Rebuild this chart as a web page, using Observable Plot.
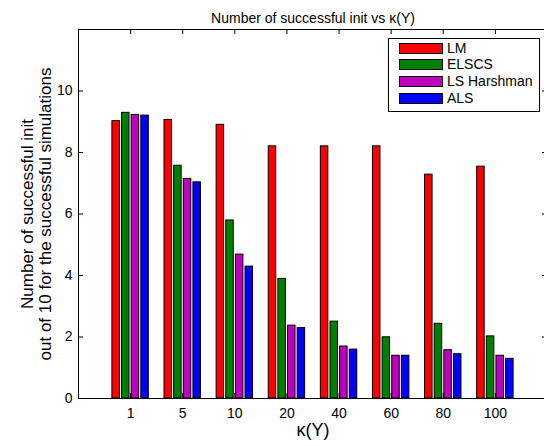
<!DOCTYPE html>
<html>
<head>
<meta charset="utf-8">
<script src="https://cdn.jsdelivr.net/npm/d3@7"></script>
<script src="https://cdn.jsdelivr.net/npm/@observablehq/plot@0.6"></script>
<style>
  html, body { margin: 0; padding: 0; background: #fff; }
  #wrap { position: relative; width: 544px; height: 446px; overflow: hidden; font-family: "Liberation Sans", Arial, sans-serif; }
  #legend { position: absolute; left: 388px; top: 38px; width: 152px; height: 74px; border: 1px solid #000; background: #fff; box-sizing: border-box; }
  .row { position: absolute; left: 10px; height: 12px; display: flex; align-items: center; font-size: 14px; color: #000; white-space: nowrap; }
  .sw { width: 44px; height: 11px; border: 1px solid #000; box-sizing: border-box; margin-right: 4px; }
</style>
</head>
<body>
<div id="wrap"></div>
<script>
const categories = ["1", "5", "10", "20", "40", "60", "80", "100"];
const seriesNames = ["LM", "ELSCS", "LS Harshman", "ALS"];
const lm    = [9.02, 9.06, 8.90, 8.20, 8.20, 8.20, 7.28, 7.54];
const elscs = [9.29, 7.57, 5.79, 3.89, 2.50, 1.99, 2.43, 2.02];
const lsh   = [9.22, 7.14, 4.68, 2.37, 1.69, 1.39, 1.57, 1.39];
const als   = [9.20, 7.03, 4.29, 2.29, 1.59, 1.39, 1.44, 1.29];
const yTicks = [0, 2, 4, 6, 8, 10];
const colors = ["#ff0000", "#008000", "#bf00bf", "#0000ff"];

const seriesValues = [lm, elscs, lsh, als];
const rows = [];
categories.forEach((c, i) => {
  seriesValues.forEach((vals, j) => {
    rows.push({cat: c, idx: i + 1, series: seriesNames[j], j, value: vals[i]});
  });
});

const W = 544, H = 446, mt = 29, mb = 48, ml = 78, mr = -3;
const plotH = H - mt - mb, plotW = W - ml - mr;
const step = 0.185, hw = 0.072;
const xPos = categories.map((c, i) => i + 1);
const font = "Liberation Sans, Arial, sans-serif";

const chart = Plot.plot({
  width: W, height: H,
  marginTop: mt, marginBottom: mb, marginLeft: ml, marginRight: mr,
  style: {fontFamily: font, background: "#fff", color: "#000"},
  x: {type: "linear", domain: [0, categories.length + 1]},
  y: {domain: [0, 12]},
  color: {domain: seriesNames, range: colors},
  marks: [
    Plot.rect(rows, {
      x1: d => d.idx + (d.j - 1.5) * step - hw,
      x2: d => d.idx + (d.j - 1.5) * step + hw,
      y1: 0, y2: "value",
      fill: "series", stroke: "#000", strokeWidth: 1
    }),
    Plot.frame({stroke: "#000", strokeWidth: 1}),
    Plot.ruleX(xPos, {x: d => d, insetTop: plotH - 5, stroke: "#000"}),
    Plot.ruleX(xPos, {x: d => d, insetBottom: plotH - 5, stroke: "#000"}),
    Plot.ruleY(yTicks, {y: d => d, insetRight: plotW - 5, stroke: "#000"}),
    Plot.ruleY(yTicks, {y: d => d, insetLeft: plotW - 5, stroke: "#000"}),
    Plot.axisX(xPos, {tickFormat: i => categories[i - 1], tickSize: 0, tickPadding: 10, fontSize: 14, label: null}),
    Plot.axisY(yTicks, {tickSize: 0, tickPadding: 6, fontSize: 14, label: null}),
    Plot.text(["Number of successful init vs κ(Y)"], {frameAnchor: "top", dy: -16, fontSize: 14}),
    Plot.text(["κ(Y)"], {frameAnchor: "bottom", dy: 37, fontSize: 18}),
    Plot.text(["Number of successful init\nout of 10 for the successful simulations"], {
      frameAnchor: "left", textAnchor: "middle", rotate: -90, dx: -42, fontSize: 17, lineHeight: 1.05
    })
  ]
});

const wrap = document.getElementById("wrap");
wrap.appendChild(chart);

const legend = document.createElement("div");
legend.id = "legend";
const tops = [3, 19, 36, 53];
seriesNames.forEach((s, j) => {
  const r = document.createElement("div");
  r.className = "row";
  r.style.top = tops[j] + "px";
  const sw = document.createElement("div");
  sw.className = "sw";
  sw.style.background = colors[j];
  const t = document.createElement("span");
  t.textContent = s;
  r.appendChild(sw);
  r.appendChild(t);
  legend.appendChild(r);
});
wrap.appendChild(legend);
</script>
</body>
</html>
